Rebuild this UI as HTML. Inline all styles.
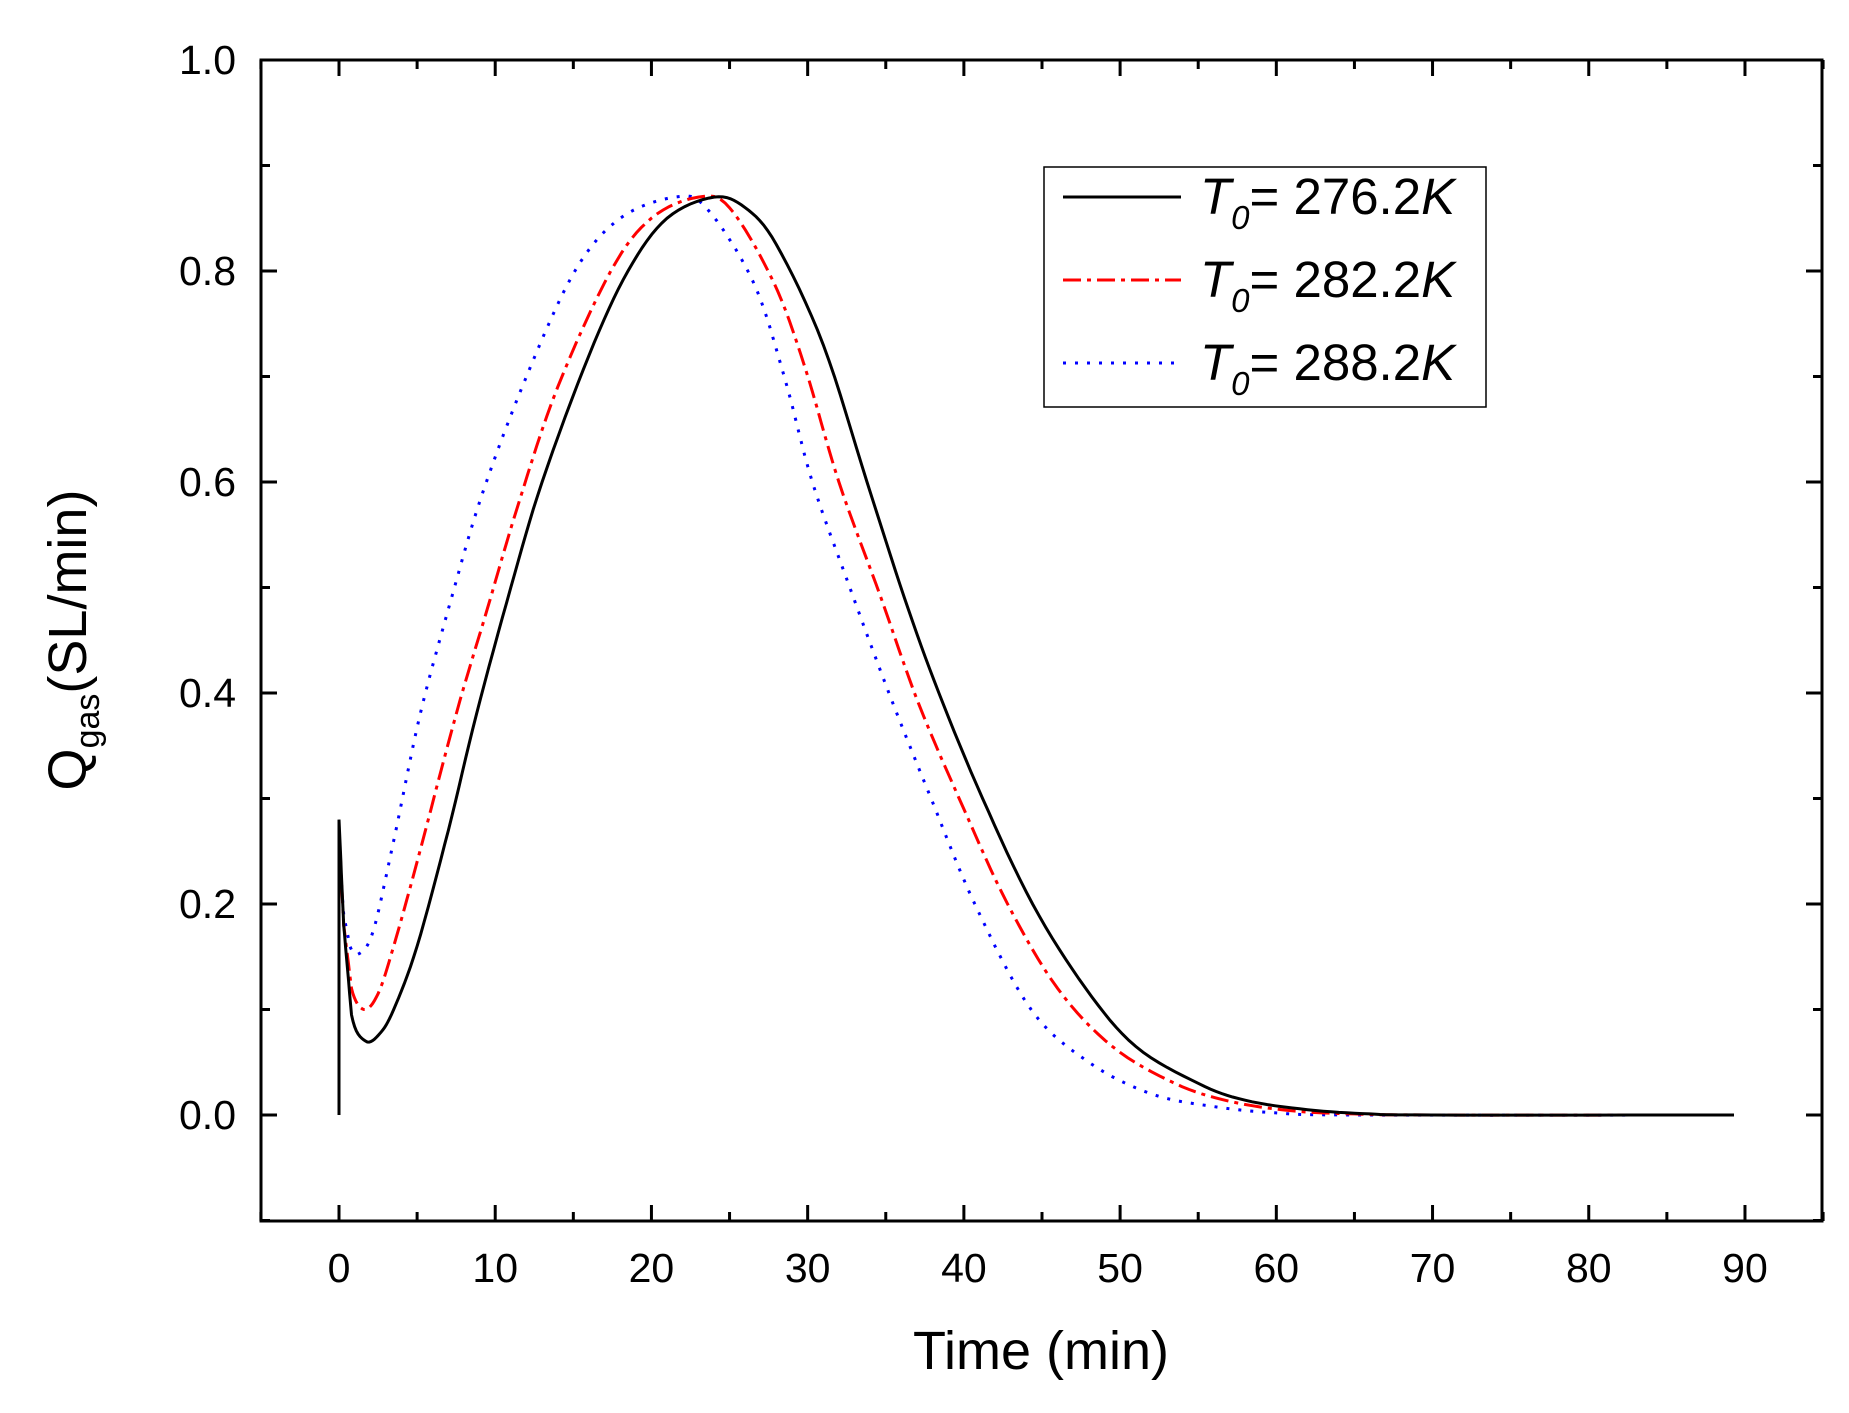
<!DOCTYPE html>
<html><head><meta charset="utf-8"><style>
html,body{margin:0;padding:0;background:#fff;}
svg{display:block;font-family:"Liberation Sans",Arial,sans-serif;}
</style></head><body>
<svg id="s" width="1849" height="1413" viewBox="0 0 1849 1413" xmlns="http://www.w3.org/2000/svg">
<rect x="261" y="60" width="1561" height="1161" fill="none" stroke="#000" stroke-width="3"/>
<g id="ticks" stroke="#000" stroke-width="3"></g>
<g id="labels" font-size="41" fill="#000"></g>
<text x="1041" y="1369" font-size="54" text-anchor="middle">Time (min)</text>
<text transform="translate(86,640) rotate(-90)" font-size="54" text-anchor="middle">Q<tspan font-size="34" dy="13">gas</tspan><tspan dy="-13">(SL/min)</tspan></text>
<g id="curves" fill="none" stroke-width="3"></g>
<rect x="1044" y="167" width="442" height="240" fill="#fff" stroke="#000" stroke-width="1.5"/>
<line x1="1063" y1="197" x2="1181" y2="197" stroke="#000" stroke-width="3"/>
<line x1="1063" y1="280" x2="1181" y2="280" stroke="#f00" stroke-width="3" stroke-dasharray="18,6,4,6"/>
<line x1="1063" y1="363" x2="1181" y2="363" stroke="#00f" stroke-width="3" stroke-dasharray="3,9"/>
<g font-size="51">
<text x="1200" y="214"><tspan font-style="italic">T</tspan><tspan font-style="italic" font-size="33" dy="15">0</tspan><tspan dy="-15">= 276.2</tspan><tspan font-style="italic">K</tspan></text>
<text x="1200" y="297"><tspan font-style="italic">T</tspan><tspan font-style="italic" font-size="33" dy="15">0</tspan><tspan dy="-15">= 282.2</tspan><tspan font-style="italic">K</tspan></text>
<text x="1200" y="380"><tspan font-style="italic">T</tspan><tspan font-style="italic" font-size="33" dy="15">0</tspan><tspan dy="-15">= 288.2</tspan><tspan font-style="italic">K</tspan></text>
</g>
</svg>
<script>
var NS="http://www.w3.org/2000/svg";
function X(t){return 339+t*15.622;}
function Y(q){return 1115-q*1055;}
var tk=document.getElementById('ticks'),lb=document.getElementById('labels');
function el(p,tag,a,txt){var e=document.createElementNS(NS,tag);for(var k in a)e.setAttribute(k,a[k]);if(txt)e.textContent=txt;p.appendChild(e);}
for(var t=-5;t<=95;t+=5){var x=X(t),L=(t%10==0)?16:9;
 el(tk,'line',{x1:x,y1:1221,x2:x,y2:1221-L});el(tk,'line',{x1:x,y1:60,x2:x,y2:60+L});
 if(t%10==0&&t>=0&&t<=90)el(lb,'text',{x:x,y:1282,'text-anchor':'middle'},String(t));}
for(var i=-1;i<=10;i++){var q=i/10,y=Y(q),L=(i%2==0)?16:9;
 el(tk,'line',{x1:261,y1:y,x2:261+L,y2:y});el(tk,'line',{x1:1822,y1:y,x2:1822-L,y2:y});
 if(i%2==0&&i>=0)el(lb,'text',{x:236,y:y+14,'text-anchor':'end'},q.toFixed(1));}
function path(pts){var d='M'+X(pts[0][0])+','+Y(pts[0][1]);
 for(var i=0;i<pts.length-1;i++){var p0=pts[Math.max(0,i-1)],p1=pts[i],p2=pts[i+1],p3=pts[Math.min(pts.length-1,i+2)];
  for(var s=1;s<=8;s++){var u=s/8,u2=u*u,u3=u2*u;
   function cr(a,b,c,d){return 0.5*((2*b)+(-a+c)*u+(2*a-5*b+4*c-d)*u2+(-a+3*b-3*c+d)*u3);}
   var t=(p1[0]==p2[0])?p1[0]:cr(p0[0],p1[0],p2[0],p3[0]);var q=(p1[0]==p2[0]||i<3)?p1[1]+(p2[1]-p1[1])*u:cr(p0[1],p1[1],p2[1],p3[1]);
   if(i<3)t=p1[0]+(p2[0]-p1[0])*u;
   d+=' L'+X(t).toFixed(1)+','+Y(q).toFixed(1);}}
 return d;}
var black=[[0,0],[0,0.28],[0.3,0.18],[0.8,0.095],[1.7,0.07],[2.6,0.077],[3.5,0.1],[5,0.16],[7,0.27],[8.8,0.38],[11,0.5],[13,0.6],[16,0.72],[18.5,0.8],[21,0.85],[24,0.87],[26,0.86],[28,0.825],[31,0.73],[33.8,0.6],[36.2,0.49],[38.4,0.4],[41.2,0.3],[44.4,0.2],[47.8,0.12],[51,0.065],[55,0.03],[58,0.014],[62,0.005],[66,0.001],[70,0],[89.3,0]];
var red=[[0,0],[0,0.27],[0.3,0.18],[0.8,0.12],[1.6,0.1],[2.5,0.115],[3.5,0.16],[5,0.24],[7.5,0.38],[9.5,0.48],[11.5,0.58],[14,0.69],[17.4,0.8],[20,0.85],[23,0.87],[25,0.86],[27.8,0.79],[29.8,0.71],[32,0.6],[34.7,0.49],[37.1,0.39],[40,0.29],[42.8,0.2],[46,0.12],[49.5,0.065],[53.5,0.03],[57,0.013],[61,0.004],[65,0.001],[70,0],[89.3,0]];
var blue=[[0,0],[0,0.25],[0.3,0.19],[0.7,0.16],[1.3,0.153],[2.2,0.175],[3.5,0.26],[5.2,0.38],[7.2,0.49],[9.2,0.59],[12,0.7],[15.1,0.8],[18,0.85],[21.5,0.87],[23.5,0.86],[26.5,0.79],[28.5,0.7],[30.3,0.6],[32.7,0.5],[35.2,0.4],[37.9,0.3],[40.7,0.2],[44.3,0.1],[48,0.05],[52,0.02],[56,0.008],[60,0.002],[65,0],[89.3,0]];
var c=document.getElementById('curves');
el(c,'path',{d:path(blue),stroke:'#00f','stroke-dasharray':'3,9'});
el(c,'path',{d:path(red),stroke:'#f00','stroke-dasharray':'18,6,4,6'});
el(c,'path',{d:path(black),stroke:'#000'});
</script>
</body></html>
